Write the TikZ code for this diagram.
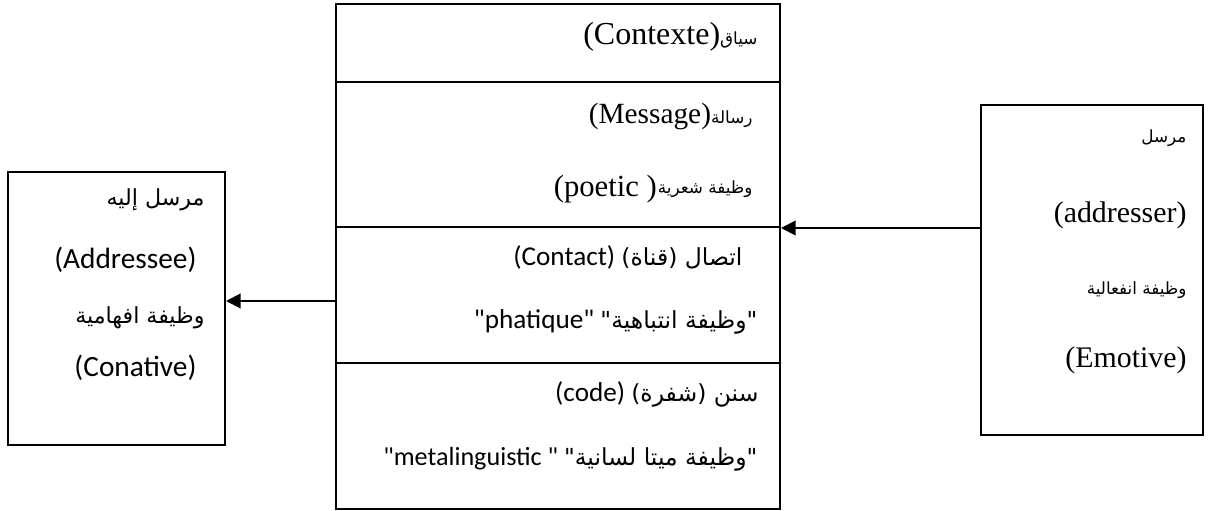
\documentclass[tikz,border=0pt]{standalone}
\usepackage{fontspec}
\setmainfont{Liberation Serif}
\newfontfamily\calfont{Carlito}
\newfontfamily\arabicfont[Script=Arabic]{DejaVu Sans}
\TeXXeTstate=1
\usetikzlibrary{arrows.meta}

% Arabic runs: small in the serif parts, larger in the sans parts
\newcommand{\arsmall}[1]{{\arabicfont\fontsize{6.3}{8}\selectfont\beginR #1\endR}}
\newcommand{\arbig}[1]{{\arabicfont\fontsize{8.8}{11}\selectfont\beginR #1\endR}}
\newcommand{\arleft}[1]{{\arabicfont\fontsize{8.3}{10}\selectfont\beginR #1\endR}}

\begin{document}
\begin{tikzpicture}[x=0.375pt, y=-0.375pt,
    box/.style={draw, line width=0.75pt, inner sep=0pt},
    sertxt/.style={inner sep=0pt, anchor=east, font=\fontsize{11.2}{13}\selectfont},
    caltxt/.style={inner sep=0pt, anchor=east, font=\calfont\fontsize{10.2}{12}\selectfont},
    lefttxt/.style={inner sep=0pt, anchor=east, font=\calfont\fontsize{11}{13}\selectfont},
    arr/.style={line width=0.75pt, -{Triangle[length=5.5pt,width=5.5pt]}}]

    \useasboundingbox (0,0) rectangle (1208,511);

    % Centre column
    \node[box, line width=1.1pt, minimum width=166.5pt, minimum height=29.25pt] (ctx) at (558,43) {};
    \node[box, minimum width=166.5pt, minimum height=54.375pt] (msg) at (558,154.5) {};
    \node[box, minimum width=166.5pt, minimum height=51pt] (cnt) at (558,295) {};
    \node[box, minimum width=166.5pt, minimum height=54.75pt] (cod) at (558,436) {};

    % Side boxes
    \node[box, minimum width=81.375pt, minimum height=102.375pt] (addressee) at (116.5,308.5) {};
    \node[box, minimum width=83.25pt, minimum height=123.75pt] (addresser) at (1092,270) {};

    % Centre texts (Latin part on the left, Arabic part on the right)
    \node[sertxt, font=\fontsize{12}{14}\selectfont] (tctx) at (758,37) {(Contexte)\arsmall{سياق}};
    \node[sertxt, font=\fontsize{11}{13}\selectfont] (tmsg) at (753,116) {(Message)\arsmall{رسالة}};
    \node[sertxt] (tpoear) at (753,189) {\arsmall{وظيفة شعرية}};
    \node[sertxt, font=\fontsize{11.5}{13}\selectfont] (tpoe) at (tpoear.west) {(poetic\ )};
    \node[caltxt] (tcnt) at (743,257) {(Contact) \arbig{اتصال (قناة)}};
    \node[caltxt] (tpha) at (758,322) {"phatique" \arbig{"وظيفة انتباهية"}};
    \node[caltxt] (tcod) at (759,394) {(code) \arbig{سنن (شفرة)}};
    \node[caltxt, font=\calfont\fontsize{9.8}{12}\selectfont] (tmet) at (758,459) {"metalinguistic\ " \arbig{"وظيفة ميتا لسانية"}};

    % Addressee texts
    \node[lefttxt] (tl1) at (205,200) {\arleft{مرسل إليه}};
    \node[lefttxt] (tl2) at (197,260) {(Addressee)};
    \node[lefttxt] (tl3) at (205,318) {\arleft{وظيفة افهامية}};
    \node[lefttxt] (tl4) at (197,368) {(Conative)};

    % Addresser texts
    \node[sertxt] (tr1) at (1187,138) {\arsmall{مرسل}};
    \node[sertxt] (tr2) at (1187,215) {(addresser)};
    \node[sertxt] (tr3) at (1187,290) {\arsmall{وظيفة انفعالية}};
    \node[sertxt] (tr4) at (1187,360) {(Emotive)};

    % Arrows
    \draw[arr] (addresser.west |- msg.south east) -- (msg.south east);
    \coordinate (lft) at (336,301);
    \draw[arr] (lft) -- (addressee.east |- lft);
\end{tikzpicture}
\end{document}
